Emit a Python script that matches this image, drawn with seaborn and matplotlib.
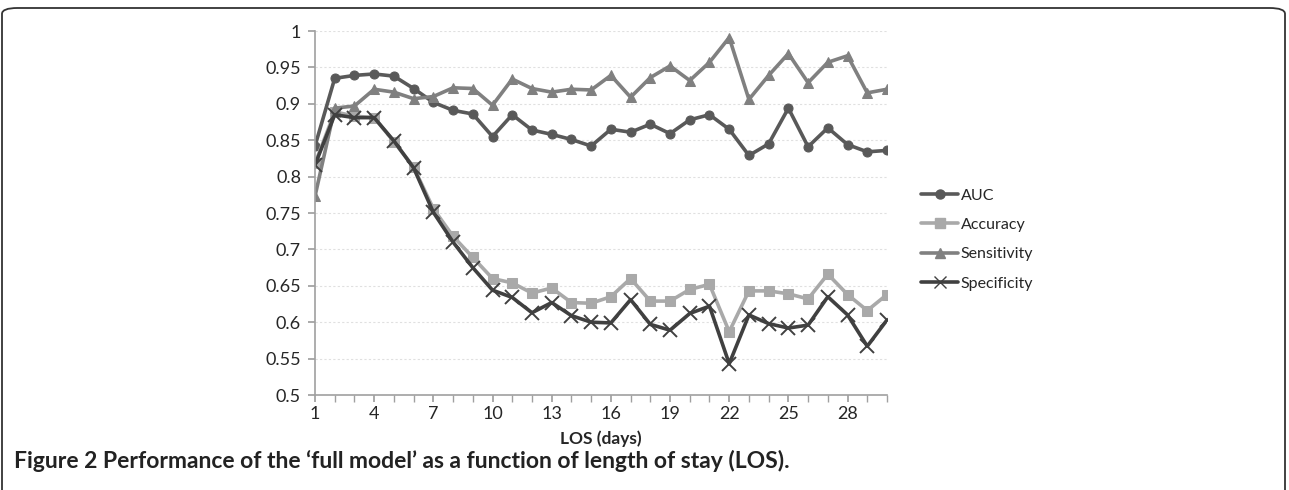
import matplotlib.pyplot as plt
import seaborn as sns
import numpy as np
from matplotlib.patches import FancyBboxPatch
from matplotlib.lines import Line2D

sns.set_theme(style="white")
plt.rcParams['font.family'] = ['Lato', 'DejaVu Sans']

# Data
los = list(range(1, 31))
auc = [0.842, 0.935, 0.939, 0.941, 0.938, 0.921, 0.902, 0.891, 0.886, 0.855,
       0.885, 0.864, 0.858, 0.851, 0.842, 0.865, 0.861, 0.872, 0.859, 0.878,
       0.885, 0.865, 0.829, 0.845, 0.894, 0.841, 0.867, 0.844, 0.834, 0.836]
accuracy = [0.818, 0.889, 0.883, 0.881, 0.848, 0.813, 0.756, 0.718, 0.689, 0.660,
            0.654, 0.640, 0.647, 0.627, 0.626, 0.635, 0.660, 0.629, 0.629, 0.645,
            0.652, 0.587, 0.643, 0.643, 0.639, 0.632, 0.666, 0.638, 0.616, 0.638]
sensitivity = [0.773, 0.894, 0.897, 0.920, 0.916, 0.907, 0.910, 0.922, 0.921, 0.898,
               0.934, 0.921, 0.916, 0.920, 0.919, 0.939, 0.909, 0.936, 0.952, 0.932,
               0.957, 0.991, 0.906, 0.939, 0.969, 0.929, 0.957, 0.966, 0.915, 0.920]
specificity = [0.816, 0.885, 0.881, 0.881, 0.849, 0.812, 0.751, 0.710, 0.675, 0.644,
               0.634, 0.613, 0.627, 0.609, 0.600, 0.599, 0.631, 0.597, 0.589, 0.612,
               0.622, 0.543, 0.610, 0.598, 0.592, 0.596, 0.635, 0.610, 0.567, 0.603]

series_names = ["AUC", "Accuracy", "Sensitivity", "Specificity"]
series_vals = [auc, accuracy, sensitivity, specificity]
colors = ["#595959", "#a9a9a9", "#808080", "#404040"]
markers = ["o", "s", "^", "x"]

fig = plt.figure(figsize=(12.89, 4.9), dpi=100)
ax = fig.add_axes([315 / 1289, 1 - 395 / 490, 572 / 1289, 364 / 490])

for name, vals, c, m in zip(series_names, series_vals, colors, markers):
    if m == "x":
        sns.lineplot(x=los, y=vals, ax=ax, color=c, linewidth=2.6, marker=m,
                     markersize=10, markeredgewidth=1.4, markeredgecolor=c, label=name)
    else:
        sns.lineplot(x=los, y=vals, ax=ax, color=c, linewidth=2.6, marker=m,
                     markersize=6.5, markeredgecolor=c, label=name)

ax.set_xlim(1, 30)
ax.set_ylim(0.5, 1.0)
yt = np.arange(0.5, 1.001, 0.05)
ax.set_yticks(yt)
ax.set_yticklabels([f"{v:.2f}".rstrip("0").rstrip(".") for v in yt], fontsize=13)
ax.set_xticks(range(1, 29, 3))
ax.set_xticklabels([str(v) for v in range(1, 29, 3)], fontsize=13)
ax.set_xticks(range(1, 31), minor=True)
ax.tick_params(axis="x", which="both", direction="out", length=5, color="#a0a0a0",
               bottom=True, pad=3)
ax.tick_params(axis="y", direction="out", length=5, color="#a0a0a0", left=True, pad=5)
ax.yaxis.grid(True, color="#e0e0e0", linestyle=(0, (2, 2)), linewidth=0.8)
ax.xaxis.grid(False)
for s in ["top", "right"]:
    ax.spines[s].set_visible(False)
for s in ["left", "bottom"]:
    ax.spines[s].set_color("#a0a0a0")
    ax.spines[s].set_linewidth(1.2)
ax.set_xlabel("LOS (days)", fontsize=12.5, fontweight="bold", labelpad=6)
ax.set_ylabel("")

handles = []
for name, c, m in zip(series_names, colors, markers):
    handles.append(Line2D([], [], color=c, linewidth=2.6, marker=m,
                          markersize=6.5 if m != "x" else 9, markeredgecolor=c))
ax.legend_.remove()
fig.legend(handles, series_names, loc="upper left", bbox_to_anchor=(915 / 1289, 1 - 182 / 490),
           frameon=False, fontsize=11.5, handlelength=2.3, handletextpad=0.15,
           labelspacing=0.95, borderaxespad=0)

fig.text(14 / 1289, 1 - 461 / 490, "Figure 2 Performance of the \u2018full model\u2019 as a function of length of stay (LOS).",
         fontsize=16.5, fontweight="bold", color="#222222", va="center", ha="left")

border = FancyBboxPatch((2 / 1289, -20 / 490), 1283 / 1289, 1 - (-20 + 8) / 490 - 0.0,
                        boxstyle="round,pad=0,rounding_size=0.012",
                        transform=fig.transFigure, fill=False, edgecolor="#333333",
                        linewidth=1.3, clip_on=False)
fig.patches.append(border)

fig.savefig("out.png", dpi=100)
